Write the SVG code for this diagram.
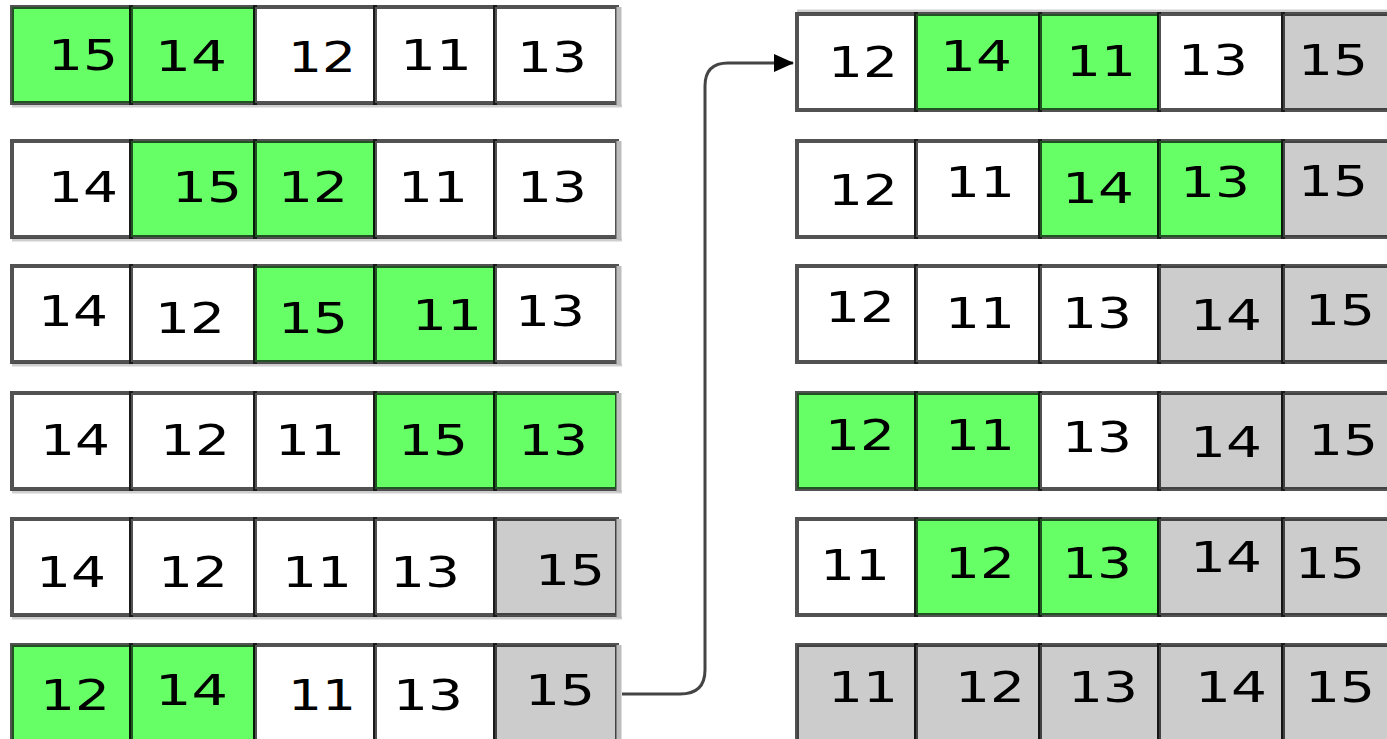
<svg xmlns="http://www.w3.org/2000/svg" width="1387" height="739" viewBox="0 0 1387 739">
<defs>
<style>
.c rect{stroke:#000;stroke-opacity:0.68;stroke-width:4}
.g rect{fill:#66ff66}
.w rect{fill:#ffffff}
.s rect{fill:#cccccc}
text{font-family:"DejaVu Sans","Liberation Sans",sans-serif;font-size:43px;fill:#000}
.sh{stroke:#cfcfcf;stroke-width:3;fill:none}
.re{stroke:#bdbdbd;stroke-width:5;fill:none}
.conn{fill:none;stroke:#444;stroke-width:3}
</style>
<marker id="ah" markerWidth="20" markerHeight="18" refX="19" refY="9" orient="auto" markerUnits="userSpaceOnUse" viewBox="0 0 20 18">
<path d="M0,0 L20,9 L0,18 z" fill="#000"/>
</marker>
</defs>
<rect width="1387" height="739" fill="#fff"/>
<g id="shadows">
<path class="sh" d="M12,106 H622 M12,240 H622 M12,365 H622 M12,492 H622 M12,618 H622"/>
<path class="sh" d="M797,11 H1387"/>
</g>
<g id="left">
<g id="L1"><g id="L1a" class="c g"><rect x="12" y="7" width="119" height="96"/><text x="48" y="70" textLength="70" lengthAdjust="spacingAndGlyphs">15</text></g><g id="L1b" class="c g"><rect x="131" y="7" width="124" height="96"/><text x="155" y="71" textLength="72" lengthAdjust="spacingAndGlyphs">14</text></g><g id="L1c" class="c w"><rect x="255" y="7" width="120" height="96"/><text x="288" y="72" textLength="68" lengthAdjust="spacingAndGlyphs">12</text></g><g id="L1d" class="c w"><rect x="375" y="7" width="120" height="96"/><text x="400" y="70" textLength="72" lengthAdjust="spacingAndGlyphs">11</text></g><g id="L1e" class="c w"><rect x="495" y="7" width="122" height="96"/><text x="517" y="72" textLength="70" lengthAdjust="spacingAndGlyphs">13</text></g></g>
<g id="L2"><g id="L2a" class="c w"><rect x="12" y="141" width="119" height="96"/><text x="48" y="202" textLength="70" lengthAdjust="spacingAndGlyphs">14</text></g><g id="L2b" class="c g"><rect x="131" y="141" width="124" height="96"/><text x="172" y="202" textLength="70" lengthAdjust="spacingAndGlyphs">15</text></g><g id="L2c" class="c g"><rect x="255" y="141" width="120" height="96"/><text x="278" y="202" textLength="70" lengthAdjust="spacingAndGlyphs">12</text></g><g id="L2d" class="c w"><rect x="375" y="141" width="120" height="96"/><text x="398" y="202" textLength="70" lengthAdjust="spacingAndGlyphs">11</text></g><g id="L2e" class="c w"><rect x="495" y="141" width="122" height="96"/><text x="517" y="202" textLength="70" lengthAdjust="spacingAndGlyphs">13</text></g></g>
<g id="L3"><g id="L3a" class="c w"><rect x="12" y="266" width="119" height="96"/><text x="38" y="326" textLength="70" lengthAdjust="spacingAndGlyphs">14</text></g><g id="L3b" class="c w"><rect x="131" y="266" width="124" height="96"/><text x="155" y="333" textLength="70" lengthAdjust="spacingAndGlyphs">12</text></g><g id="L3c" class="c g"><rect x="255" y="266" width="120" height="96"/><text x="278" y="333" textLength="70" lengthAdjust="spacingAndGlyphs">15</text></g><g id="L3d" class="c g"><rect x="375" y="266" width="120" height="96"/><text x="412" y="330" textLength="70" lengthAdjust="spacingAndGlyphs">11</text></g><g id="L3e" class="c w"><rect x="495" y="266" width="122" height="96"/><text x="515" y="326" textLength="70" lengthAdjust="spacingAndGlyphs">13</text></g></g>
<g id="L4"><g id="L4a" class="c w"><rect x="12" y="393" width="119" height="96"/><text x="40" y="455" textLength="70" lengthAdjust="spacingAndGlyphs">14</text></g><g id="L4b" class="c w"><rect x="131" y="393" width="124" height="96"/><text x="160" y="455" textLength="70" lengthAdjust="spacingAndGlyphs">12</text></g><g id="L4c" class="c w"><rect x="255" y="393" width="120" height="96"/><text x="275" y="455" textLength="70" lengthAdjust="spacingAndGlyphs">11</text></g><g id="L4d" class="c g"><rect x="375" y="393" width="120" height="96"/><text x="398" y="455" textLength="70" lengthAdjust="spacingAndGlyphs">15</text></g><g id="L4e" class="c g"><rect x="495" y="393" width="122" height="96"/><text x="518" y="455" textLength="70" lengthAdjust="spacingAndGlyphs">13</text></g></g>
<g id="L5"><g id="L5a" class="c w"><rect x="12" y="519" width="119" height="96"/><text x="36" y="587" textLength="70" lengthAdjust="spacingAndGlyphs">14</text></g><g id="L5b" class="c w"><rect x="131" y="519" width="124" height="96"/><text x="158" y="587" textLength="70" lengthAdjust="spacingAndGlyphs">12</text></g><g id="L5c" class="c w"><rect x="255" y="519" width="120" height="96"/><text x="282" y="587" textLength="70" lengthAdjust="spacingAndGlyphs">11</text></g><g id="L5d" class="c w"><rect x="375" y="519" width="120" height="96"/><text x="390" y="587" textLength="70" lengthAdjust="spacingAndGlyphs">13</text></g><g id="L5e" class="c s"><rect x="495" y="519" width="122" height="96"/><text x="535" y="585" textLength="70" lengthAdjust="spacingAndGlyphs">15</text></g></g>
<g id="L6"><g id="L6a" class="c g"><rect x="12" y="645" width="119" height="100"/><text x="40" y="710" textLength="70" lengthAdjust="spacingAndGlyphs">12</text></g><g id="L6b" class="c g"><rect x="131" y="645" width="124" height="100"/><text x="155" y="705" textLength="73" lengthAdjust="spacingAndGlyphs">14</text></g><g id="L6c" class="c w"><rect x="255" y="645" width="120" height="100"/><text x="288" y="710" textLength="68" lengthAdjust="spacingAndGlyphs">11</text></g><g id="L6d" class="c w"><rect x="375" y="645" width="120" height="100"/><text x="393" y="710" textLength="70" lengthAdjust="spacingAndGlyphs">13</text></g><g id="L6e" class="c s"><rect x="495" y="645" width="122" height="100"/><text x="525" y="705" textLength="70" lengthAdjust="spacingAndGlyphs">15</text></g></g>
</g>
<g id="edges">
<path class="re" d="M619,7 V106 M619,141 V240 M619,266 V365 M619,393 V492 M619,519 V618 M619,645 V739"/>
</g>
<g id="right">
<g id="R1"><g id="R1a" class="c w"><rect x="797" y="14" width="119" height="96"/><text x="828" y="77" textLength="70" lengthAdjust="spacingAndGlyphs">12</text></g><g id="R1b" class="c g"><rect x="916" y="14" width="124" height="96"/><text x="940" y="71" textLength="72" lengthAdjust="spacingAndGlyphs">14</text></g><g id="R1c" class="c g"><rect x="1040" y="14" width="119" height="96"/><text x="1066" y="76" textLength="70" lengthAdjust="spacingAndGlyphs">11</text></g><g id="R1d" class="c w"><rect x="1159" y="14" width="124" height="96"/><text x="1178" y="75" textLength="70" lengthAdjust="spacingAndGlyphs">13</text></g><g id="R1e" class="c s"><rect x="1283" y="14" width="120" height="96"/><text x="1298" y="75" textLength="70" lengthAdjust="spacingAndGlyphs">15</text></g></g>
<g id="R2"><g id="R2a" class="c w"><rect x="797" y="141" width="119" height="96"/><text x="828" y="205" textLength="70" lengthAdjust="spacingAndGlyphs">12</text></g><g id="R2b" class="c w"><rect x="916" y="141" width="124" height="96"/><text x="945" y="197" textLength="70" lengthAdjust="spacingAndGlyphs">11</text></g><g id="R2c" class="c g"><rect x="1040" y="141" width="119" height="96"/><text x="1062" y="203" textLength="72" lengthAdjust="spacingAndGlyphs">14</text></g><g id="R2d" class="c g"><rect x="1159" y="141" width="124" height="96"/><text x="1180" y="197" textLength="70" lengthAdjust="spacingAndGlyphs">13</text></g><g id="R2e" class="c s"><rect x="1283" y="141" width="120" height="96"/><text x="1298" y="196" textLength="70" lengthAdjust="spacingAndGlyphs">15</text></g></g>
<g id="R3"><g id="R3a" class="c w"><rect x="797" y="266" width="119" height="96"/><text x="825" y="322" textLength="70" lengthAdjust="spacingAndGlyphs">12</text></g><g id="R3b" class="c w"><rect x="916" y="266" width="124" height="96"/><text x="945" y="328" textLength="70" lengthAdjust="spacingAndGlyphs">11</text></g><g id="R3c" class="c w"><rect x="1040" y="266" width="119" height="96"/><text x="1062" y="328" textLength="70" lengthAdjust="spacingAndGlyphs">13</text></g><g id="R3d" class="c s"><rect x="1159" y="266" width="124" height="96"/><text x="1190" y="330" textLength="72" lengthAdjust="spacingAndGlyphs">14</text></g><g id="R3e" class="c s"><rect x="1283" y="266" width="120" height="96"/><text x="1305" y="325" textLength="70" lengthAdjust="spacingAndGlyphs">15</text></g></g>
<g id="R4"><g id="R4a" class="c g"><rect x="797" y="393" width="119" height="96"/><text x="825" y="450" textLength="70" lengthAdjust="spacingAndGlyphs">12</text></g><g id="R4b" class="c g"><rect x="916" y="393" width="124" height="96"/><text x="945" y="450" textLength="70" lengthAdjust="spacingAndGlyphs">11</text></g><g id="R4c" class="c w"><rect x="1040" y="393" width="119" height="96"/><text x="1062" y="452" textLength="70" lengthAdjust="spacingAndGlyphs">13</text></g><g id="R4d" class="c s"><rect x="1159" y="393" width="124" height="96"/><text x="1190" y="457" textLength="72" lengthAdjust="spacingAndGlyphs">14</text></g><g id="R4e" class="c s"><rect x="1283" y="393" width="120" height="96"/><text x="1308" y="455" textLength="70" lengthAdjust="spacingAndGlyphs">15</text></g></g>
<g id="R5"><g id="R5a" class="c w"><rect x="797" y="519" width="119" height="96"/><text x="820" y="580" textLength="70" lengthAdjust="spacingAndGlyphs">11</text></g><g id="R5b" class="c g"><rect x="916" y="519" width="124" height="96"/><text x="945" y="578" textLength="70" lengthAdjust="spacingAndGlyphs">12</text></g><g id="R5c" class="c g"><rect x="1040" y="519" width="119" height="96"/><text x="1062" y="578" textLength="70" lengthAdjust="spacingAndGlyphs">13</text></g><g id="R5d" class="c s"><rect x="1159" y="519" width="124" height="96"/><text x="1190" y="572" textLength="72" lengthAdjust="spacingAndGlyphs">14</text></g><g id="R5e" class="c s"><rect x="1283" y="519" width="120" height="96"/><text x="1295" y="578" textLength="70" lengthAdjust="spacingAndGlyphs">15</text></g></g>
<g id="R6"><g id="R6a" class="c s"><rect x="797" y="645" width="119" height="100"/><text x="828" y="702" textLength="70" lengthAdjust="spacingAndGlyphs">11</text></g><g id="R6b" class="c s"><rect x="916" y="645" width="124" height="100"/><text x="955" y="702" textLength="70" lengthAdjust="spacingAndGlyphs">12</text></g><g id="R6c" class="c s"><rect x="1040" y="645" width="119" height="100"/><text x="1068" y="702" textLength="70" lengthAdjust="spacingAndGlyphs">13</text></g><g id="R6d" class="c s"><rect x="1159" y="645" width="124" height="100"/><text x="1195" y="702" textLength="72" lengthAdjust="spacingAndGlyphs">14</text></g><g id="R6e" class="c s"><rect x="1283" y="645" width="120" height="100"/><text x="1305" y="702" textLength="70" lengthAdjust="spacingAndGlyphs">15</text></g></g>
</g>
<g id="connectors">
<path class="conn" d="M622,694 H680 Q705,694 705,670 V86 Q705,63 728,63 H793" marker-end="url(#ah)"/>
</g>
</svg>
